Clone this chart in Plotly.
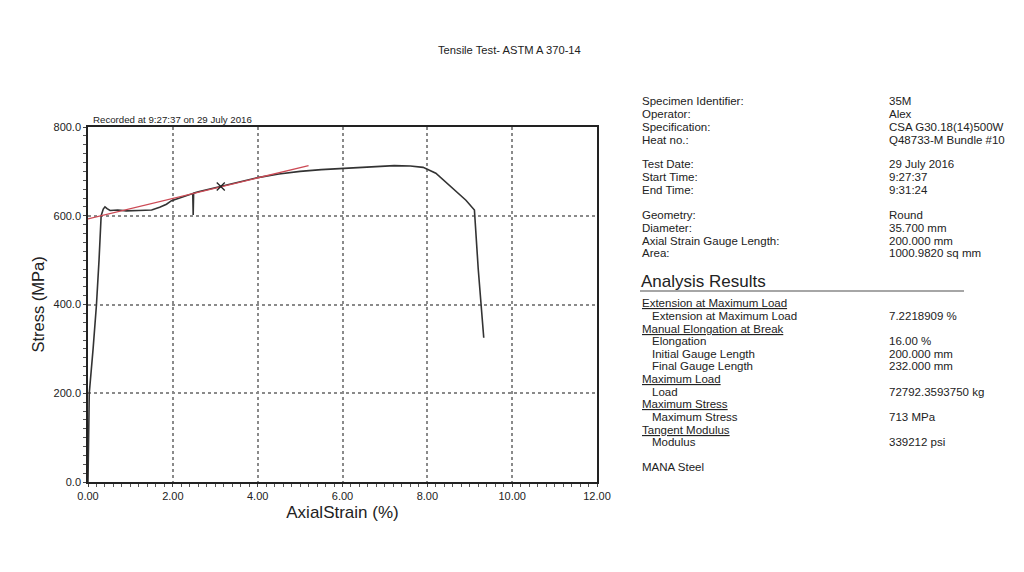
import plotly.graph_objects as go

# --- data ---
strain = [0.0, 0.01, 0.03, 0.12, 0.20, 0.26, 0.31, 0.36, 0.40, 0.45, 0.52, 0.70,
          0.90, 1.20, 1.50, 1.69, 1.85, 1.97, 2.20, 2.47, 2.48, 2.49, 2.60, 3.13,
          3.50, 4.00, 4.50, 5.00, 5.50, 6.00, 6.50, 7.00, 7.22, 7.60, 7.90, 8.20,
          8.44, 8.70, 8.91, 9.11, 9.20, 9.33]
stress = [0, 50, 200, 300, 400, 500, 600, 615, 620, 616, 612, 613,
          611, 612, 613, 619, 626, 634, 641, 650, 602, 651, 654, 666,
          675, 686, 694, 700, 704, 707, 710, 712, 713, 712, 709, 696,
          675, 654, 635, 613, 480, 325]

tangent_x = [0.0, 5.2]
tangent_y = [593, 713]

marker_x = [3.13]
marker_y = [666]

x_ticks = [0, 2, 4, 6, 8, 10, 12]
y_ticks = [0, 200, 400, 600, 800]

info_labels = ["Specimen Identifier:", "Operator:", "Specification:", "Heat no.:",
               "Test Date:", "Start Time:", "End Time:",
               "Geometry:", "Diameter:", "Axial Strain Gauge Length:", "Area:"]
info_values = ["35M", "Alex", "CSA G30.18(14)500W", "Q48733-M Bundle #10",
               "29 July 2016", "9:27:37", "9:31:24",
               "Round", "35.700 mm", "200.000 mm", "1000.9820 sq mm"]
info_rows = [101, 114, 127, 140, 164, 177, 190, 215, 228, 241, 253]

result_labels = ["Extension at Maximum Load", "Extension at Maximum Load",
                 "Manual Elongation at Break", "Elongation", "Initial Gauge Length",
                 "Final Gauge Length", "Maximum Load", "Load", "Maximum Stress",
                 "Maximum Stress", "Tangent Modulus", "Modulus"]
result_values = ["", "7.2218909 %", "", "16.00 %", "200.000 mm", "232.000 mm",
                 "", "72792.3593750 kg", "", "713 MPa", "", "339212 psi"]
result_header = [True, False, True, False, False, False, True, False, True, False, True, False]
result_rows = [303, 316, 329, 341, 354, 366, 379, 392, 404, 417, 430, 442]

# the page body keeps its 8px margin, so the figure is 1008x556 placed at (8, 8)
OFF = 8
W, H = 1024 - 2 * OFF, 572 - 2 * OFF
FONT = "Arial, Liberation Sans, sans-serif"
TXT = "#222222"
FS = 11.5


def px(x):
    return (x - OFF) / W


def py(y):
    return 1 - (y - OFF) / H


fig = go.Figure()

fig.add_trace(go.Scatter(x=strain, y=stress, mode="lines",
                         line=dict(color="#333333", width=1.6), hoverinfo="skip"))
fig.add_trace(go.Scatter(x=tangent_x, y=tangent_y, mode="lines",
                         line=dict(color="#cc4a55", width=1.3), hoverinfo="skip"))
fig.add_trace(go.Scatter(x=marker_x, y=marker_y, mode="markers",
                         marker=dict(symbol="x-thin", size=8, color="#222222",
                                     line=dict(width=1.3, color="#222222")),
                         hoverinfo="skip"))

axis_common = dict(showline=True, linecolor="#222222", linewidth=1.5, mirror=True,
                   showgrid=True, gridcolor="#8a8a8a", gridwidth=1.5, griddash="dot",
                   zeroline=False, ticks="outside", ticklen=3, tickcolor="#444444",
                   automargin=False,
                   tickfont=dict(family=FONT, size=11, color=TXT))

fig.update_xaxes(range=[0, 12], tickvals=x_ticks, tickformat=".2f",
                 domain=[px(88), px(597)],
                 minor=dict(dtick=0.2, ticks="outside", ticklen=3, tickcolor="#555555",
                            showgrid=False),
                 title=dict(text="AxialStrain (%)", standoff=5,
                            font=dict(family=FONT, size=17, color=TXT)),
                 **axis_common)
fig.update_yaxes(range=[0, 800], tickvals=y_ticks, tickformat=".1f",
                 domain=[py(482), py(127)],
                 minor=dict(dtick=20, ticks="outside", ticklen=3, tickcolor="#555555",
                            showgrid=False),
                 title=dict(text="Stress (MPa)", standoff=5,
                            font=dict(family=FONT, size=16.5, color=TXT)),
                 **axis_common)

ann = []


def add_text(x, y, text, size=FS, **kw):
    ann.append(dict(x=px(x), y=py(y), xref="paper", yref="paper", text=text,
                    showarrow=False, xanchor="left", yanchor="middle",
                    font=dict(family=FONT, size=size, color=TXT, **kw)))


ann.append(dict(x=px(509), y=py(50), xref="paper", yref="paper",
                text="Tensile Test- ASTM A 370-14", showarrow=False,
                xanchor="center", yanchor="middle",
                font=dict(family=FONT, size=11.2, color=TXT)))
add_text(91, 120, "Recorded at 9:27:37 on 29 July 2016", size=9.7)

for lab, val, yy in zip(info_labels, info_values, info_rows):
    add_text(640, yy, lab)
    add_text(887, yy, val)

add_text(639, 281, "Analysis Results", size=17)

for lab, val, head, yy in zip(result_labels, result_values, result_header, result_rows):
    if head:
        add_text(640, yy, lab, lineposition="under")
    else:
        add_text(650, yy, lab)
        add_text(887, yy, val)

add_text(640, 467, "MANA Steel")

fig.update_layout(
    margin=dict(l=0, r=0, t=0, b=0, autoexpand=False),
    paper_bgcolor="white", plot_bgcolor="white",
    showlegend=False,
    annotations=ann,
    shapes=[dict(type="line", xref="paper", yref="paper",
                 x0=px(640), x1=px(964), y0=py(291), y1=py(291),
                 line=dict(color="#888888", width=1.5))],
)

fig.write_html("out.html")
